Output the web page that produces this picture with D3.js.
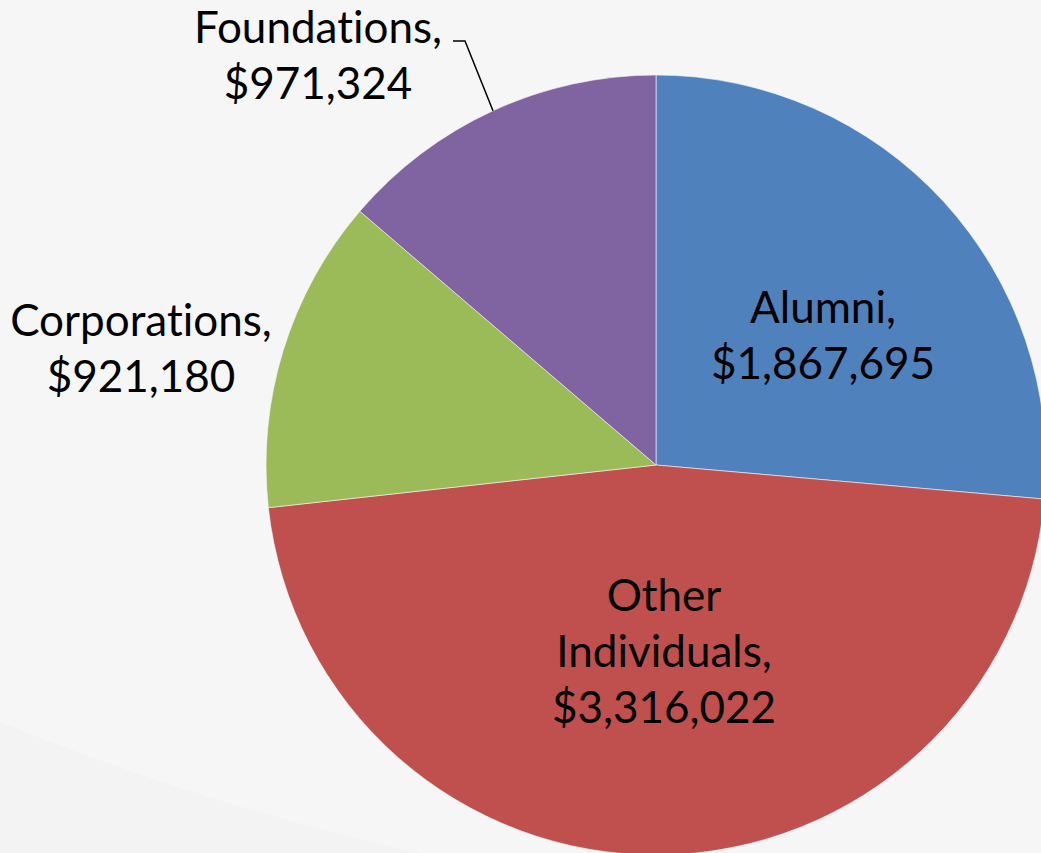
<!DOCTYPE html>
<html>
<head>
<meta charset="utf-8">
<script src="https://cdn.jsdelivr.net/npm/d3@7"></script>
<style>
  body { margin: 0; background: #f6f6f6; overflow: hidden; }
  svg { display: block; }
  .lbl { font-family: Lato, "Open Sans", sans-serif; font-size: 44px; fill: #000;
         font-variant-ligatures: none; }
</style>
</head>
<body>
<svg id="chart"></svg>
<script>
// data
const categories = ['Alumni', 'Other Individuals', 'Corporations', 'Foundations'];
const amounts = [1867695, 3316022, 921180, 971324];
const colors = ['#4f81bd', '#c0504d', '#9bbb59', '#8064a2'];

const width = 1041, height = 853;
const cx = 656, cy = 465, radius = 390;
const lineH = 56;

const fmt = d3.format('$,');

let svg = d3.select('#chart')
  .attr('width', width)
  .attr('height', height);

// faint background swoosh, bottom left
svg.append('path')
  .attr('d', 'M0,722 C120,770 250,815 420,853 L0,853 Z')
  .style('fill', '#f3f3f3');

let g = svg.append('g')
  .attr('transform', 'translate(' + cx + ',' + cy + ')');

let pieData = d3.pie().sort(null)(amounts);
let arc = d3.arc().innerRadius(0).outerRadius(radius);

g.selectAll('path.slice')
  .data(pieData)
  .enter()
  .append('path')
    .attr('class', 'slice')
    .attr('d', arc)
    .style('fill', (d, i) => colors[i])
    .style('stroke', '#f6f6f6')
    .style('stroke-width', 0.6);

// label anchor points (first baseline, center x) on the page
const labelPos = [
  { x: 823, y: 323, lines: ['Alumni,'] },
  { x: 664, y: 611, lines: ['Other', 'Individuals,'] },
  { x: 141, y: 336, lines: ['Corporations,'] },
  { x: 318, y: 43, lines: ['Foundations,'] }
];

labelPos.forEach((p, i) => {
  let lines = p.lines.concat([fmt(amounts[i])]);
  let t = svg.append('text')
    .attr('class', 'lbl')
    .attr('text-anchor', 'middle');
  lines.forEach((s, k) => {
    t.append('tspan')
      .attr('x', p.x)
      .attr('y', p.y + k * lineH)
      .text(s);
  });
});

// leader line for Foundations, ends on the arc mid-slice
const fd = pieData[3];
const ang = (fd.startAngle + fd.endAngle) / 2;
const ex = cx + radius * Math.sin(ang), ey = cy - radius * Math.cos(ang);
svg.append('polyline')
  .attr('points', [[453, 41], [465, 41], [ex, ey]].map(q => q.join(',')).join(' '))
  .style('fill', 'none')
  .style('stroke', '#000')
  .style('stroke-width', 1.5);
</script>
</body>
</html>
